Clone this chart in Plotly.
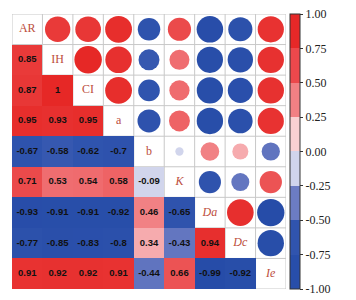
import plotly.graph_objects as go

labels = ["AR", "IH", "CI", "a", "b", "K", "Da", "Dc", "Ie"]
label_html = ["AR", "IH", "CI", "a", "b", "<i>K</i>", "<i>Da</i>", "<i>Dc</i>", "<i>Ie</i>"]

# lower-triangle correlation rows (row i, columns 0..i-1)
r_IH = [0.85]
r_CI = [0.87, 1]
r_a = [0.95, 0.93, 0.95]
r_b = [-0.67, -0.58, -0.62, -0.7]
r_K = [0.71, 0.53, 0.54, 0.58, -0.09]
r_Da = [-0.93, -0.91, -0.91, -0.92, 0.46, -0.65]
r_Dc = [-0.77, -0.85, -0.83, -0.8, 0.34, -0.43, 0.94]
r_Ie = [0.91, 0.92, 0.92, 0.91, -0.44, 0.66, -0.99, -0.92]
rows = [[], r_IH, r_CI, r_a, r_b, r_K, r_Da, r_Dc, r_Ie]

colorbar_ticks = [1.0, 0.75, 0.5, 0.25, 0.0, -0.25, -0.5, -0.75, -1.0]

n = len(labels)
idx = list(range(n))

cell_scale = [
    [0.0, "rgb(38,76,168)"],
    [0.2, "rgb(48,84,174)"],
    [0.3, "rgb(108,124,195)"],
    [0.45, "rgb(205,210,235)"],
    [0.5, "rgb(246,238,242)"],
    [0.65, "rgb(247,185,188)"],
    [0.75, "rgb(240,115,118)"],
    [0.85, "rgb(235,75,76)"],
    [1.0, "rgb(230,40,38)"],
]

band_cols = ["rgb(40,78,170)", "rgb(48,84,174)", "rgb(108,124,195)", "rgb(208,212,236)",
             "rgb(250,208,210)", "rgb(242,128,132)", "rgb(236,72,76)", "rgb(230,40,40)"]
step_scale = []
for k, c in enumerate(band_cols):
    step_scale.append([k / 8, c])
    step_scale.append([(k + 1) / 8, c])

z = [[None] * n for _ in range(n)]
tx, ty, tt = [], [], []
cx, cy, cv = [], [], []
for i in range(n):
    for j, v in enumerate(rows[i]):
        z[i][j] = v
        tx.append(j); ty.append(i); tt.append(f"<b>{v:g}</b>")
        cx.append(i); cy.append(j); cv.append(v)

fig = go.Figure()
fig.add_trace(go.Heatmap(x=idx, y=idx, z=z, zmin=-1, zmax=1, colorscale=cell_scale,
                         showscale=False, hoverinfo="skip"))
fig.add_trace(go.Scatter(x=tx, y=ty, text=tt, mode="text",
                         textfont=dict(family="Liberation Sans", size=9.5, color="#111"),
                         hoverinfo="skip"))
fig.add_trace(go.Scatter(x=cx, y=cy, mode="markers",
                         marker=dict(size=[27.5 * abs(v) ** 0.5 for v in cv], color=cv,
                                     cmin=-1, cmax=1, colorscale=cell_scale, opacity=1,
                                     line=dict(width=0)),
                         hoverinfo="skip"))
fig.add_trace(go.Scatter(x=idx, y=idx, text=label_html, mode="text",
                         textfont=dict(family="Liberation Serif", size=12, color="rgb(188,78,60)"),
                         hoverinfo="skip"))
fig.add_trace(go.Scatter(x=[None], y=[None], mode="markers",
                         marker=dict(color=[0], cmin=-1, cmax=1, colorscale=step_scale,
                                     showscale=True,
                                     colorbar=dict(x=1.015, xanchor="left", y=0.5, yanchor="middle",
                                                   len=1.0, lenmode="fraction", thickness=10,
                                                   outlinewidth=1, outlinecolor="#333",
                                                   ticks="outside", ticklen=3, tickcolor="#333",
                                                   tickvals=colorbar_ticks,
                                                   ticktext=[f"{t:.2f}" for t in colorbar_ticks],
                                                   ticklabeloverflow="allow",
                                                   tickfont=dict(family="Liberation Serif", size=12,
                                                                 color="#222"),
                                                   xpad=0, ypad=0)),
                         hoverinfo="skip"))

shapes = []
for k in range(n + 1):
    shapes.append(dict(type="line", xref="x", yref="y", x0=k - 0.5, x1=k - 0.5, y0=-0.5, y1=n - 0.5,
                       line=dict(color="rgb(200,200,200)", width=1), layer="below"))
    shapes.append(dict(type="line", xref="x", yref="y", y0=k - 0.5, y1=k - 0.5, x0=-0.5, x1=n - 0.5,
                       line=dict(color="rgb(200,200,200)", width=1), layer="below"))

# page body adds an 8px margin, so the figure is drawn 8px smaller with shifted margins
fig.update_layout(
    width=348, height=292,
    margin=dict(l=4, r=70, t=6, b=11),
    paper_bgcolor="white", plot_bgcolor="white",
    showlegend=False, shapes=shapes,
    xaxis=dict(range=[-0.5, n - 0.5], showgrid=False, zeroline=False, showticklabels=False,
               fixedrange=True),
    yaxis=dict(range=[n - 0.5, -0.5], showgrid=False, zeroline=False, showticklabels=False,
               fixedrange=True),
)
fig.write_html("out.html")
